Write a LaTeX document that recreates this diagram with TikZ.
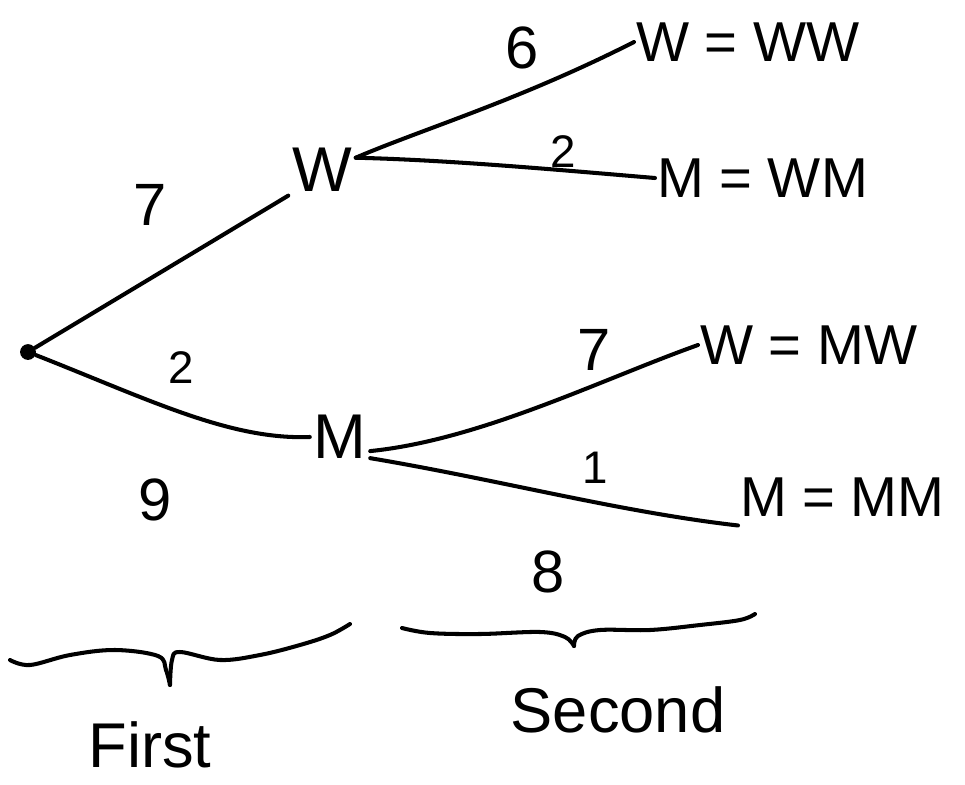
\documentclass[tikz,border=0pt]{standalone}
\usepackage{fontspec}
\setmainfont{Liberation Sans}
\begin{document}
\begin{tikzpicture}[x=0.02cm,y=-0.02cm,
  ink/.style={line width=2.3pt,line cap=round,line join=round},
  lbl/.style={font=\fontsize{36}{40}\selectfont,inner sep=2pt},
  leaf/.style={font=\fontsize{32}{36}\selectfont,inner sep=1pt,anchor=west},
  num/.style={font=\fontsize{34}{38}\selectfont,inner sep=0pt},
  small/.style={font=\fontsize{26}{30}\selectfont,inner sep=0pt}]
\useasboundingbox[fill=white] (0,0) rectangle (965,785);
% nodes
\node[circle,fill=black,inner sep=0pt,minimum size=9pt] (root) at (28,352) {};
\node[lbl] (W1) at (322,170) {W};
\node[lbl] (M1) at (340,437) {M};
\node[leaf] (L1) at (634,42) {W = WW};
\node[leaf] (L2) at (655,178) {M = WM};
\node[leaf] (L3) at (698,345) {W = MW};
\node[leaf] (L4) at (738,497) {M = MM};
% edge labels
\node[num] (n7a) at (150,205) {7};
\node[small] (n2a) at (181,368) {2};
\node[num] (n9) at (155,500) {9};
\node[num] (n6) at (522,48) {6};
\node[small] (n2b) at (563,152) {2};
\node[num] (n7b) at (594,350) {7};
\node[small] (n1) at (595,468) {1};
\node[num] (n8) at (548,572) {8};
% connectors
\draw[ink] (root) -- (W1.south west);
\draw[ink] (root) .. controls (150,400) and (230,440) .. (M1.west);
\draw[ink] (W1.20) .. controls (420,130) and (520,100) .. (L1.west);
\draw[ink] (W1.20) .. controls (450,160) and (560,170) .. (L2.west);
\draw[ink] (M1.-25) .. controls (480,440) and (600,380) .. (L3.west);
\draw[ink] (M1.-35) .. controls (500,480) and (620,512) .. ([yshift=-4pt]L4.south west);
% braces
\draw[ink] plot[smooth,tension=0.6] coordinates {(10,660) (30,665) (70,655) (115,650) (158,656) (166,670) (170,685)};
\draw[ink] plot[smooth,tension=0.6] coordinates {(170,685) (172,660) (180,652) (220,660) (260,655) (300,645) (330,635) (350,624)};
\draw[ink] plot[smooth,tension=0.6] coordinates {(402,628) (430,633) (480,634) (540,632) (565,637) (574,646)};
\draw[ink] plot[smooth,tension=0.6] coordinates {(574,646) (578,636) (600,630) (650,630) (700,625) (740,620) (755,614)};
% labels under braces
\node[lbl] (first) at (150,745) {First};
\node[lbl] (second) at (618,710) {Second};
\end{tikzpicture}
\end{document}
